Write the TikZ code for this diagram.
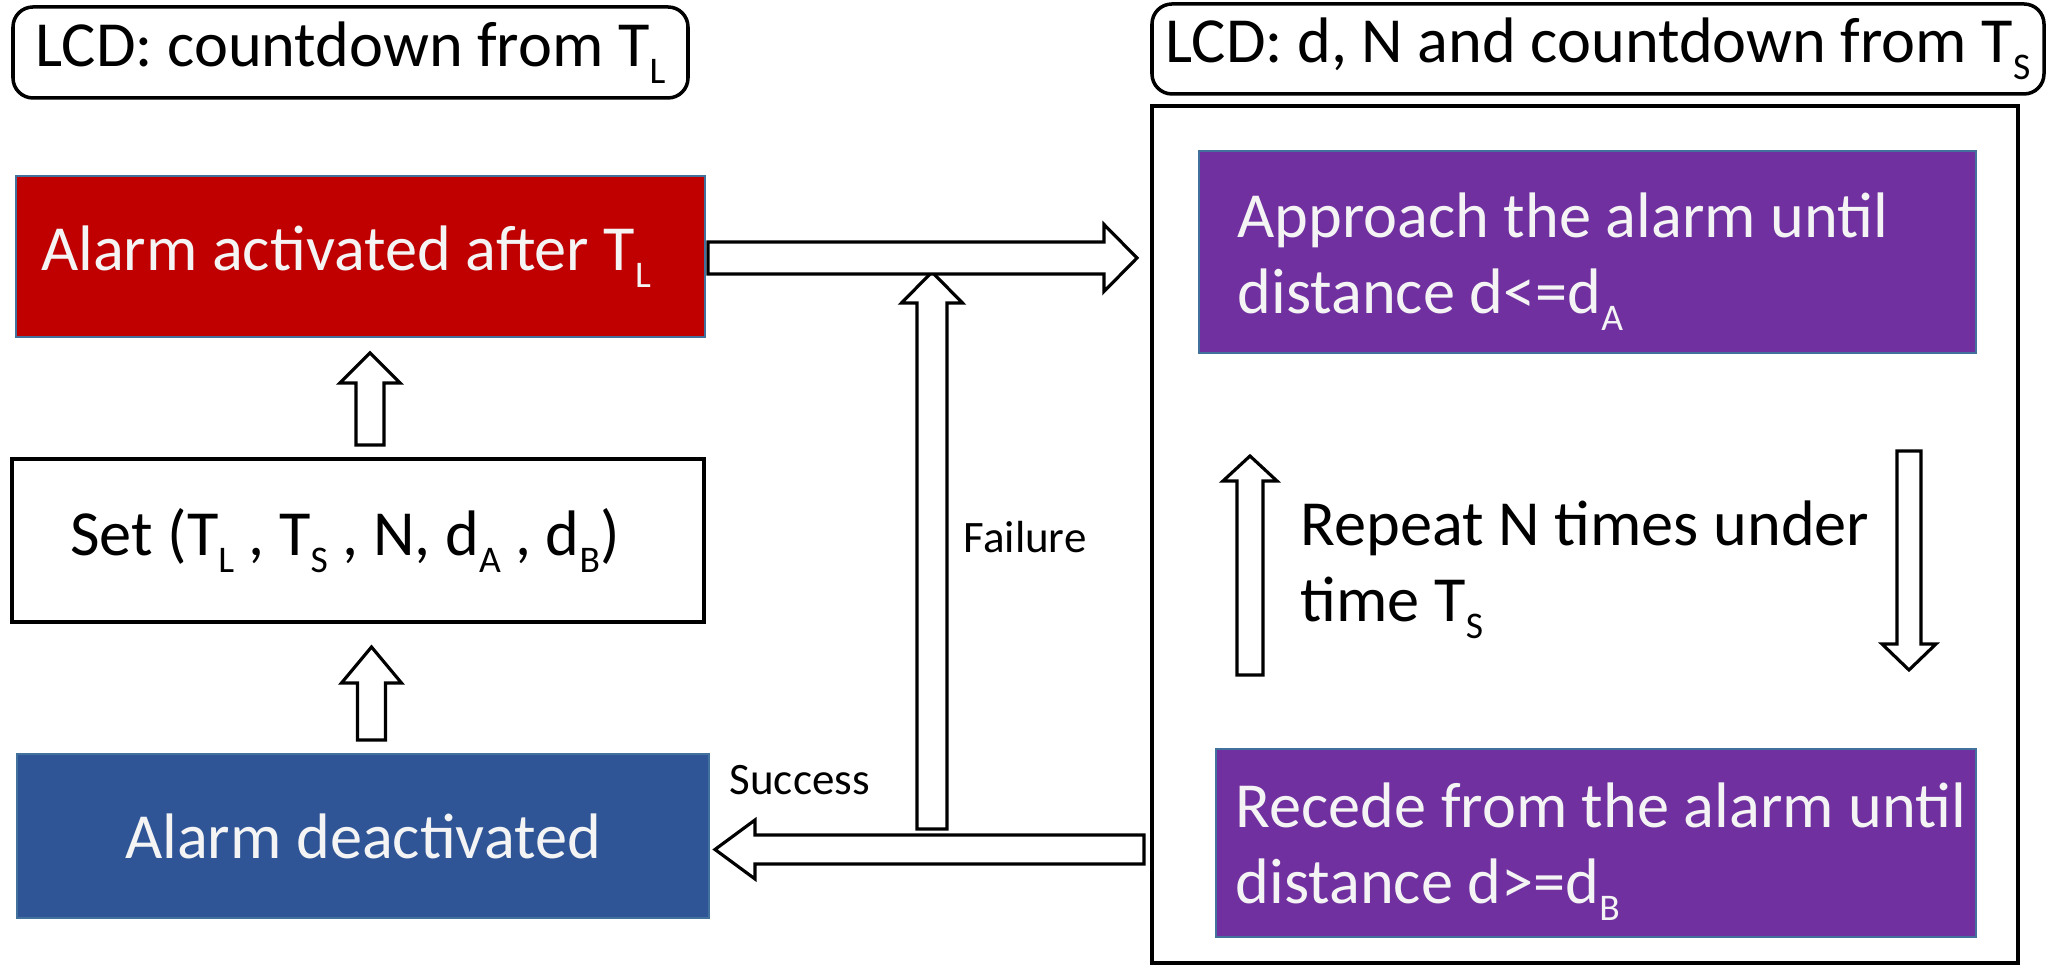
\documentclass[tikz,border=0pt]{standalone}
\usepackage{fontspec}
\setmainfont{Carlito}
\usetikzlibrary{calc,positioning}

\definecolor{alarmred}{HTML}{C00000}
\definecolor{alarmblue}{HTML}{2F5597}
\definecolor{steppurple}{HTML}{7030A0}
\definecolor{edgeblue}{HTML}{41719C}
\definecolor{boxtext}{HTML}{F4F4F4}

% lowered index as in T_L
\newcommand{\lowsub}[1]{\raisebox{-0.26em}{\fontsize{10.7}{10.7}\selectfont #1}}

% hollow block arrow: tail, tip, half shaft, half head, head length
\newcommand{\hollowarrow}[5]{%
    \coordinate (hb) at ($(#2)!#5!(#1)$);
    \draw[blockarrow] ($(#1)!#3!90:(#2)$) -- ($(hb)!#3!90:(#2)$) -- ($(hb)!#4!90:(#2)$) -- (#2)
        -- ($(hb)!#4!-90:(#2)$) -- ($(hb)!#3!-90:(#2)$) -- ($(#1)!#3!-90:(#2)$) -- cycle;
}

\begin{document}
\begin{tikzpicture}[
    every node/.style={font=\fontsize{18.3}{21.6}\selectfont, inner sep=0pt},
    lcd/.style={draw, line width=1pt, rounded corners=0.2cm},
    plainbox/.style={draw, line width=1.1pt},
    colorbox/.style={draw=edgeblue, line width=0.6pt, text=boxtext},
    boxlabel/.style={align=left, text=boxtext},
    smalltext/.style={font=\fontsize{12.8}{15}\selectfont},
    blockarrow/.style={draw, line width=0.9pt, fill=white, line join=miter}
]
    \useasboundingbox (0,0) rectangle (20.48,9.65);

    % LCD displays
    \node[lcd, minimum width=6.75cm, minimum height=0.91cm] (lcdL) at (3.505,9.125) {LCD: countdown from T\lowsub{L}};
    \node[lcd, minimum width=8.92cm, minimum height=0.90cm] (lcdR) at (15.98,9.16) {LCD: d, N and countdown from T\lowsub{S}};

    % Left column
    \node[colorbox, fill=alarmred, minimum width=6.89cm, minimum height=1.61cm] (act) at (3.605,7.085) {Alarm activated after T\lowsub{L}\hspace{0.29cm}\null};
    \node[plainbox, minimum width=6.92cm, minimum height=1.63cm] (set) at (3.58,4.245) {Set (T\lowsub{L} , T\lowsub{S} , N, d\lowsub{A} , d\lowsub{B})\hspace{0.26cm}\null};
    \node[colorbox, fill=alarmblue, minimum width=6.925cm, minimum height=1.64cm] (deact) at (3.63,1.29) {Alarm deactivated};

    % Repeated approach / recede loop
    \node[plainbox, minimum width=8.66cm, minimum height=8.57cm] (loop) at (15.85,4.305) {};
    \node[colorbox, fill=steppurple, minimum width=7.77cm, minimum height=2.02cm] (appr) at (15.875,7.13) {};
    \node[boxlabel, right=0.39cm of appr.west, yshift=-0.1cm] (apprtext) {Approach the alarm until\\distance d<=d\lowsub{A}};
    \node[colorbox, fill=steppurple, minimum width=7.60cm, minimum height=1.88cm] (rec) at (15.96,1.22) {};
    \node[boxlabel, right=0.20cm of rec.west, yshift=-0.09cm] (rectext) {Recede from the alarm until\\distance d>=d\lowsub{B}};
    \node[align=left, anchor=west] (rep) at (13.0,3.95) {Repeat N times under\\time T\lowsub{S}};

    % Outcome labels
    \node[smalltext, anchor=west] (fail) at (9.63,4.28) {Failure};
    \node[smalltext, anchor=west] (succ) at (7.29,1.85) {Success};

    % Block arrows
    \coordinate (up2Tail) at (3.715,2.25);  \coordinate (up2Tip) at (3.715,3.18);
    \coordinate (up1Tail) at (3.70,5.20);   \coordinate (up1Tip) at (3.70,6.12);
    \coordinate (failTail) at (9.32,1.36);  \coordinate (failTip) at (9.32,6.93);
    \coordinate (goTail) at (7.08,7.07);    \coordinate (goTip) at (11.37,7.07);
    \coordinate (succTail) at (11.44,1.155); \coordinate (succTip) at (7.15,1.155);
    \coordinate (backTail) at (12.50,2.90); \coordinate (backTip) at (12.50,5.09);
    \coordinate (fwdTail) at (19.09,5.14);  \coordinate (fwdTip) at (19.09,2.95);

    \hollowarrow{up2Tail}{up2Tip}{0.14cm}{0.30cm}{0.36cm}
    \hollowarrow{up1Tail}{up1Tip}{0.14cm}{0.30cm}{0.30cm}
    \hollowarrow{failTail}{failTip}{0.15cm}{0.305cm}{0.31cm}
    \hollowarrow{goTail}{goTip}{0.16cm}{0.335cm}{0.33cm}
    \hollowarrow{succTail}{succTip}{0.145cm}{0.295cm}{0.40cm}
    \hollowarrow{backTail}{backTip}{0.13cm}{0.27cm}{0.25cm}
    \hollowarrow{fwdTail}{fwdTip}{0.12cm}{0.27cm}{0.26cm}
\end{tikzpicture}
\end{document}
